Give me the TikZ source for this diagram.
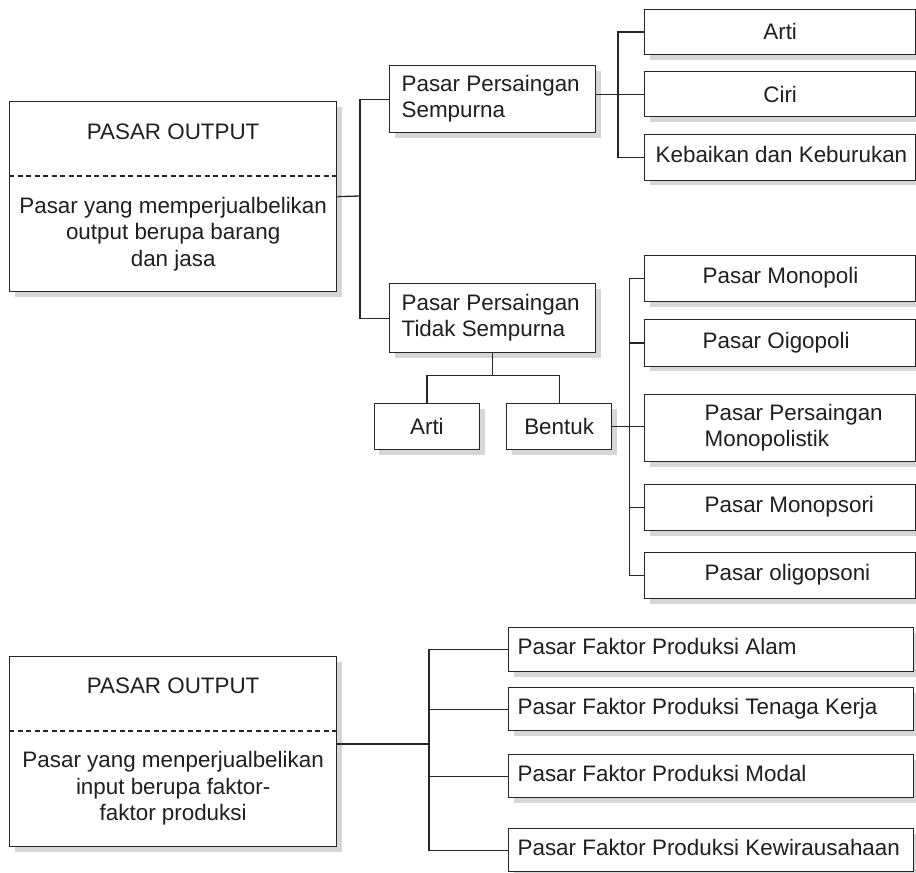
\documentclass[tikz,border=0pt]{standalone}
\usepackage{fontspec}
\setmainfont{Liberation Sans}
\usetikzlibrary{shadows}
% fixed-width box content: left padding, then a left-aligned stack of lines
\newcommand\padtext[3]{\makebox[#1][l]{\hspace{#2}\begin{tabular}[c]{@{}l@{}}#3\end{tabular}}}

\begin{document}
\begin{tikzpicture}[x=1pt,y=-1pt,
  every node/.style={font=\fontsize{22.4}{26.5}\selectfont, text=black!88},
  box/.style={draw=black!85, line width=1.3pt, fill=white, inner sep=0pt, anchor=north west,
    general shadow={fill=black!16, shadow xshift=5pt, shadow yshift=-5pt}},
  link/.style={draw=black!85, line width=1.3pt},
  divider/.style={draw=black!85, line width=1.1pt, dash pattern=on 5pt off 3.5pt}]

\useasboundingbox (0,0) rectangle (916,873);

% ---------- output market ----------
\node[box, minimum width=327pt, minimum height=190pt] (out1) at (9,101) {};
\node (out1t) at ([yshift=-31pt]out1.north) {PASAR OUTPUT};
\draw[divider] ([yshift=-75pt]out1.north west) -- ([yshift=-75pt]out1.north east);
\node[align=center] (out1b) at ([yshift=-133pt]out1.north)
  {Pasar yang memperjualbelikan\\output berupa barang\\dan jasa};

\node[box, minimum width=206pt, minimum height=67pt] (pps) at (389,65)
  {\padtext{206pt}{12pt}{Pasar Persaingan\\Sempurna}};
\node[box, minimum width=271pt, minimum height=45.5pt] (arti1) at (644,8.5) {Arti};
\node[box, minimum width=271pt, minimum height=45pt] (ciri) at (644,71) {Ciri};
\node[box, minimum width=271pt, minimum height=45.5pt] (keb) at (644,134)
  {\padtext{271pt}{11pt}{Kebaikan dan Keburukan}};

\node[box, minimum width=206pt, minimum height=69pt] (ppts) at (389,283)
  {\padtext{206pt}{12pt}{Pasar Persaingan\\Tidak Sempurna}};
\node[box, minimum width=105.5pt, minimum height=46pt] (arti2) at (373.5,403) {Arti};
\node[box, minimum width=105pt, minimum height=46pt] (bentuk) at (506,403) {Bentuk};

\node[box, minimum width=271pt, minimum height=46pt] (mono) at (644,255)
  {\padtext{271pt}{58pt}{Pasar Monopoli}};
\node[box, minimum width=271pt, minimum height=46.5pt] (oligo) at (644,319)
  {\padtext{271pt}{58pt}{Pasar Oigopoli}};
\node[box, minimum width=271pt, minimum height=67pt] (ppm) at (644,394)
  {\padtext{271pt}{60pt}{Pasar Persaingan\\Monopolistik}};
\node[box, minimum width=271pt, minimum height=46pt] (monops) at (644,484)
  {\padtext{271pt}{60pt}{Pasar Monopsori}};
\node[box, minimum width=271pt, minimum height=46pt] (oligops) at (644,552)
  {\padtext{271pt}{60pt}{Pasar oligopsoni}};

% connectors of the output market
\coordinate (j1) at (360,196);
\draw[link] (out1.east) -- (j1);
\draw[link] (pps.west) -| (j1) |- (ppts.west);
\draw[link] (pps.east |- ciri.west) -- (ciri.west);
\draw[link] (arti1.west) -| ([xshift=-26pt]keb.west) -- (keb.west);
\draw[link] (ppts.south) -- ([yshift=-22pt]ppts.south) coordinate (j3);
\draw[link] (arti2.north) |- (j3) -| (bentuk.north);
\draw[link] (bentuk.east) -- (bentuk.east -| ppm.west);
\draw[link] (mono.west) -| ([xshift=-14.5pt]oligops.west) -- (oligops.west);
\draw[link] (oligo.west) -- ++(-14.5,0);
\draw[link] (monops.west) -- ++(-14.5,0);

% ---------- input market ----------
\node[box, minimum width=327pt, minimum height=190pt] (out2) at (9,656) {};
\node (out2t) at ([yshift=-30pt]out2.north) {PASAR OUTPUT};
\draw[divider] ([yshift=-75pt]out2.north west) -- ([yshift=-75pt]out2.north east);
\node[align=center] (out2b) at ([yshift=-132.5pt]out2.north)
  {Pasar yang menperjualbelikan\\input berupa faktor-\\faktor produksi};

\node[box, minimum width=405pt, minimum height=44pt] (alam) at (508,627)
  {\padtext{405pt}{9pt}{Pasar Faktor Produksi Alam}};
\node[box, minimum width=405pt, minimum height=43pt] (tenaga) at (508,687)
  {\padtext{405pt}{9pt}{Pasar Faktor Produksi Tenaga Kerja}};
\node[box, minimum width=405pt, minimum height=43pt] (modal) at (508,754)
  {\padtext{405pt}{9pt}{Pasar Faktor Produksi Modal}};
\node[box, minimum width=405pt, minimum height=43pt] (kewira) at (508,828)
  {\padtext{405pt}{9pt}{Pasar Faktor Produksi Kewirausahaan}};

% connectors of the input market
\coordinate (j5) at (429,744);
\draw[link] (j5 -| out2.east) -- (j5);
\draw[link] (alam.west) -| (j5 |- kewira.west) -- (kewira.west);
\draw[link] (tenaga.west) -- (tenaga.west -| j5);
\draw[link] (modal.west) -- (modal.west -| j5);

\end{tikzpicture}
\end{document}
